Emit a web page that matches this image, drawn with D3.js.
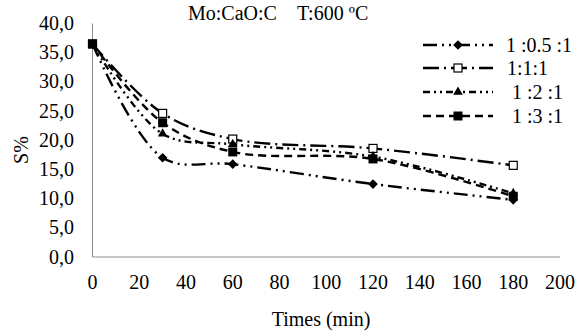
<!DOCTYPE html>
<html>
<head>
<meta charset="utf-8">
<script src="https://cdn.jsdelivr.net/npm/d3@7"></script>
</head>
<body style="margin:0">
<svg id="chart" width="582" height="332"></svg>
<script>
const times = [0, 30, 60, 120, 180];
const seriesNames = ["1 :0.5 :1", "1:1:1", "1 :2 :1", "1 :3 :1"];
const s1 = [36.5, 17.0, 15.9, 12.5, 9.8];
const s2 = [36.5, 24.6, 20.2, 18.6, 15.7];
const s3 = [36.5, 21.1, 19.3, 17.2, 10.9];
const s4 = [36.5, 23.0, 18.0, 16.8, 10.4];
const xTicks = [0, 20, 40, 60, 80, 100, 120, 140, 160, 180, 200];
const yTicks = [0, 5, 10, 15, 20, 25, 30, 35, 40];

const dashes = ["14,5,2,5,2,5", "16,5,2,5", "7,4,2,4,2,4", "8,5"];
const markers = ["diamond", "openSquare", "triangle", "square"];

const svg = d3.select("#chart");
const x = d3.scaleLinear().domain([0, 200]).range([92.5, 560]);
const y = d3.scaleLinear().domain([0, 40]).range([257, 23.5]);

function label(sel) {
  return sel.style("font-family", '"Liberation Serif"').style("font-size", "20px");
}

// axes
svg.append("line").attr("x1", x(0)).attr("x2", x(200)).attr("y1", y(0)).attr("y2", y(0))
  .attr("stroke", "#8c8c8c");
svg.append("line").attr("x1", x(0)).attr("x2", x(0)).attr("y1", y(0)).attr("y2", y(40))
  .attr("stroke", "#8c8c8c");

const fmt = v => d3.format(".1f")(v).replace(".", ",");
yTicks.forEach(v => {
  label(svg.append("text")).attr("x", 74).attr("y", y(v) + 6.5).attr("text-anchor", "end").text(fmt(v));
});
xTicks.forEach(v => {
  label(svg.append("text")).attr("x", x(v)).attr("y", 289).attr("text-anchor", "middle").text(v);
});

label(svg.append("text")).attr("x", 321).attr("y", 326).attr("text-anchor", "middle").text("Times (min)");
label(svg.append("text")).attr("transform", "translate(28,150) rotate(-90)").attr("text-anchor", "middle").text("S%");
label(svg.append("text")).attr("x", 188).attr("y", 20).text("Mo:CaO:C\u00a0\u00a0\u00a0\u00a0T:600 ºC");

function drawMarker(g, type, cx, cy) {
  if (type === "diamond") {
    g.append("path").attr("d", d3.symbol(d3.symbolDiamond2, 60)()).attr("transform", `translate(${cx},${cy})`).attr("fill", "#000");
  } else if (type === "openSquare") {
    g.append("rect").attr("x", cx - 4).attr("y", cy - 4).attr("width", 8).attr("height", 8)
      .attr("fill", "#fff").attr("stroke", "#000").attr("stroke-width", 1.2);
  } else if (type === "triangle") {
    g.append("path").attr("d", d3.symbol(d3.symbolTriangle, 40)()).attr("transform", `translate(${cx},${cy})`).attr("fill", "#000");
  } else {
    g.append("rect").attr("x", cx - 4.5).attr("y", cy - 4.5).attr("width", 9).attr("height", 9).attr("fill", "#000");
  }
}

const allSeries = [s1, s2, s3, s4];
const line = d3.line().x(d => x(d[0])).y(d => y(d[1])).curve(d3.curveCatmullRom.alpha(0.5));

allSeries.forEach((vals, i) => {
  const pts = times.map((t, j) => [t, vals[j]]);
  const g = svg.append("g");
  g.append("path").attr("d", line(pts)).attr("fill", "none").attr("stroke", "#000")
    .attr("stroke-width", 2.4).attr("stroke-dasharray", dashes[i]);
  pts.forEach(p => drawMarker(g, markers[i], x(p[0]), y(p[1])));
});

// legend
const legY = [45, 68, 92, 116];
const legX = [506, 507, 512, 512];
seriesNames.forEach((name, i) => {
  svg.append("line").attr("x1", 423).attr("x2", 493).attr("y1", legY[i]).attr("y2", legY[i])
    .attr("stroke", "#000").attr("stroke-width", 2.4).attr("stroke-dasharray", dashes[i]);
  drawMarker(svg, markers[i], 458, legY[i]);
  label(svg.append("text")).attr("x", legX[i]).attr("y", legY[i] + 6.5).text(name);
});
</script>
</body>
</html>
